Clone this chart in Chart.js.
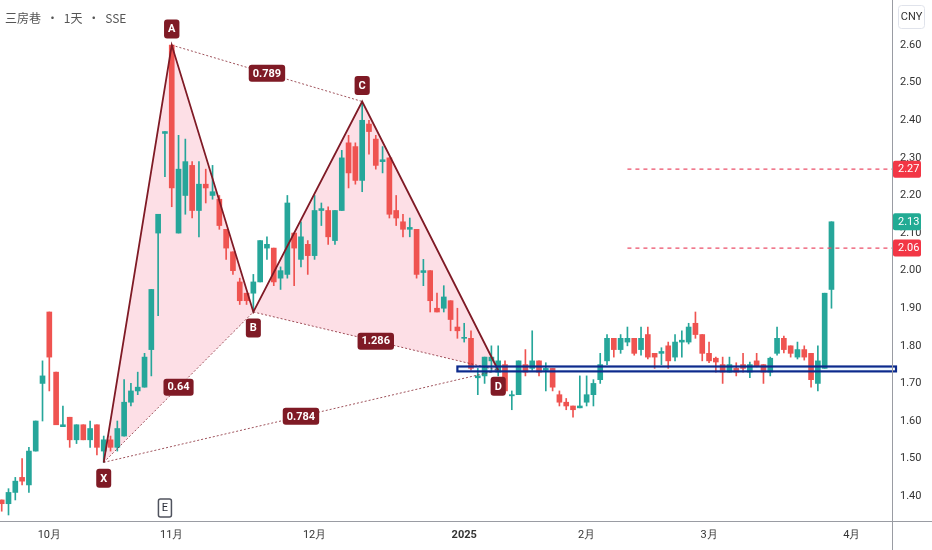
<!DOCTYPE html>
<html>
<head>
<meta charset="utf-8">
<script src="https://cdn.jsdelivr.net/npm/chart.js@4.4.1/dist/chart.umd.min.js"></script>
<style>
  html, body { margin: 0; padding: 0; background: #fff; }
  #wrap { width: 932px; height: 550px; }
</style>
</head>
<body>
<div id="wrap"><canvas id="chart" width="932" height="550"></canvas></div>
<script>
// daily candles, 三房巷 (SSE), late Sep 2024 -> 27 Mar 2025
const opens = [
  1.39, 1.38, 1.41, 1.45, 1.43, 1.52, 1.70, 1.89, 1.73, 1.585,
  1.61, 1.55, 1.59, 1.55, 1.59, 1.52, 1.55, 1.53, 1.56, 1.65,
  1.68, 1.69, 1.79, 2.10, 2.365, 2.60, 2.10, 2.20, 2.28, 2.16,
  2.23, 2.20, 2.19, 2.11, 2.05, 1.97, 1.94, 1.94, 1.97, 2.06,
  2.06, 1.98, 1.99, 2.10, 2.03, 2.07, 2.04, 2.16, 2.16, 2.08,
  2.16, 2.34, 2.33, 2.24, 2.39, 2.35, 2.29, 2.30, 2.16, 2.13,
  2.11, 2.11, 1.995, 2.00, 1.90, 1.90, 1.92, 1.85, 1.82, 1.82,
  1.715, 1.72, 1.76, 1.73, 1.75, 1.667, 1.67, 1.75, 1.74, 1.76,
  1.735, 1.74, 1.67, 1.65, 1.64, 1.635, 1.65, 1.67, 1.71, 1.76,
  1.82, 1.79, 1.81, 1.82, 1.79, 1.83, 1.78, 1.78, 1.80, 1.77,
  1.81, 1.81, 1.86, 1.83, 1.78, 1.767, 1.75, 1.73, 1.74, 1.75,
  1.73, 1.76, 1.75, 1.73, 1.78, 1.82, 1.80, 1.77, 1.79, 1.78,
  1.70, 1.74, 1.95
];
const highs = [
  1.39, 1.42, 1.45, 1.50, 1.53, 1.60, 1.76, 1.89, 1.73, 1.64,
  1.61, 1.59, 1.59, 1.60, 1.59, 1.56, 1.56, 1.60, 1.71, 1.70,
  1.73, 1.78, 1.95, 2.15, 2.37, 2.60, 2.36, 2.35, 2.29, 2.29,
  2.27, 2.28, 2.20, 2.11, 2.05, 1.98, 1.94, 1.99, 2.08, 2.09,
  2.06, 2.01, 2.20, 2.10, 2.13, 2.08, 2.20, 2.18, 2.17, 2.16,
  2.32, 2.36, 2.34, 2.45, 2.40, 2.36, 2.33, 2.30, 2.20, 2.15,
  2.14, 2.11, 2.03, 2.00, 1.94, 1.96, 1.92, 1.90, 1.86, 1.84,
  1.74, 1.77, 1.80, 1.80, 1.76, 1.68, 1.76, 1.79, 1.84, 1.76,
  1.755, 1.74, 1.68, 1.66, 1.64, 1.72, 1.72, 1.71, 1.78, 1.83,
  1.82, 1.83, 1.85, 1.82, 1.85, 1.85, 1.78, 1.795, 1.81, 1.83,
  1.84, 1.86, 1.89, 1.83, 1.81, 1.77, 1.77, 1.77, 1.755, 1.78,
  1.757, 1.78, 1.75, 1.77, 1.85, 1.826, 1.80, 1.81, 1.80, 1.78,
  1.80, 1.94, 2.13
];
const lows = [
  1.36, 1.35, 1.39, 1.43, 1.41, 1.52, 1.60, 1.68, 1.59, 1.585,
  1.53, 1.54, 1.55, 1.53, 1.51, 1.49, 1.52, 1.52, 1.56, 1.64,
  1.67, 1.69, 1.72, 1.88, 2.25, 2.17, 2.10, 2.15, 2.14, 2.09,
  2.18, 2.19, 2.11, 2.03, 1.99, 1.91, 1.91, 1.89, 1.97, 2.03,
  1.96, 1.95, 1.98, 1.96, 2.01, 1.99, 2.03, 2.12, 2.07, 2.07,
  2.16, 2.22, 2.23, 2.21, 2.31, 2.27, 2.26, 2.14, 2.12, 2.09,
  2.09, 1.98, 1.96, 1.89, 1.89, 1.89, 1.84, 1.82, 1.81, 1.735,
  1.67, 1.70, 1.73, 1.72, 1.675, 1.63, 1.67, 1.72, 1.735, 1.72,
  1.68, 1.68, 1.64, 1.63, 1.61, 1.635, 1.64, 1.64, 1.70, 1.75,
  1.77, 1.78, 1.80, 1.775, 1.775, 1.765, 1.74, 1.75, 1.74, 1.76,
  1.77, 1.805, 1.82, 1.76, 1.755, 1.73, 1.70, 1.73, 1.72, 1.73,
  1.715, 1.744, 1.70, 1.72, 1.775, 1.781, 1.77, 1.765, 1.762, 1.69,
  1.68, 1.74, 1.90
];
const closes = [
  1.38, 1.41, 1.44, 1.44, 1.52, 1.60, 1.72, 1.77, 1.59, 1.59,
  1.55, 1.59, 1.55, 1.58, 1.53, 1.55, 1.53, 1.58, 1.65, 1.68,
  1.69, 1.77, 1.95, 2.15, 2.37, 2.22, 2.27, 2.29, 2.16, 2.23,
  2.22, 2.21, 2.12, 2.06, 2.00, 1.92, 1.92, 1.97, 2.08, 2.07,
  1.97, 2.00, 2.18, 2.06, 2.09, 2.04, 2.16, 2.165, 2.09, 2.16,
  2.30, 2.26, 2.24, 2.40, 2.37, 2.28, 2.295, 2.15, 2.14, 2.11,
  2.115, 1.99, 2.00, 1.92, 1.89, 1.93, 1.87, 1.84, 1.821, 1.74,
  1.72, 1.77, 1.77, 1.76, 1.68, 1.67, 1.76, 1.73, 1.76, 1.73,
  1.74, 1.69, 1.65, 1.64, 1.63, 1.64, 1.67, 1.70, 1.75, 1.82,
  1.79, 1.82, 1.82, 1.78, 1.82, 1.77, 1.77, 1.785, 1.76, 1.81,
  1.815, 1.85, 1.83, 1.78, 1.76, 1.757, 1.73, 1.75, 1.73, 1.74,
  1.75, 1.747, 1.73, 1.767, 1.82, 1.79, 1.78, 1.79, 1.77, 1.71,
  1.76, 1.94, 2.13
];

// month labels on the time axis (bar index of first session)
const monthTickIdx = [7, 25, 46, 68, 86, 104, 125];
const monthTickLabels = ['10月', '11月', '12月', '2025', '2月', '3月', '4月'];

// XABCD pattern (bar index, price)
const patternNames = ['X', 'A', 'B', 'C', 'D'];
const patternIdx = [15, 25, 37, 53, 73];
const patternPrice = [1.49, 2.60, 1.89, 2.45, 1.735];
const ratioText = ['0.64', '0.789', '1.286', '0.784'];
const ratioFrom = [0, 1, 2, 0];
const ratioTo = [2, 3, 4, 4];

// horizontal levels
const targetLevels = [2.27, 2.06];
const targetStartIdx = 92;
const zoneStartIdx = 67;
const zoneTop = 1.745;
const zoneBottom = 1.732;
const earningsIdx = 24;
const lastPrice = 2.13;

const UP = '#26a69a', DOWN = '#ef5350', MAROON = '#7f1a25';
const X_MAX = 130.9;

const candleColors = closes.map((c, i) => c >= opens[i] ? UP : DOWN);
const pt = k => ({ x: patternIdx[k], y: patternPrice[k] });

const dotted = (a, b) => ({
  type: 'line',
  data: [pt(a), pt(b)],
  borderColor: 'rgba(127,26,37,0.75)',
  borderWidth: 1,
  borderDash: [2, 2],
  pointRadius: 0,
  order: 1
});

const targetSets = targetLevels.map(v => ({
  type: 'line',
  data: [{ x: targetStartIdx, y: v }, { x: X_MAX, y: v }],
  borderColor: '#ec4f68',
  borderWidth: 1.2,
  borderDash: [4, 4],
  pointRadius: 0,
  order: 1
}));

function roundBox(ctx, x, y, w, h, r) {
  ctx.beginPath();
  ctx.moveTo(x + r, y);
  ctx.arcTo(x + w, y, x + w, y + h, r);
  ctx.arcTo(x + w, y + h, x, y + h, r);
  ctx.arcTo(x, y + h, x, y, r);
  ctx.arcTo(x, y, x + w, y, r);
  ctx.closePath();
}

function tag(ctx, text, cx, cy, bg, font, minW, h) {
  ctx.font = font;
  const w = Math.max(minW, ctx.measureText(text).width + 8);
  ctx.fillStyle = bg;
  roundBox(ctx, cx - w / 2, cy - h / 2, w, h, 3);
  ctx.fill();
  ctx.fillStyle = '#fff';
  ctx.textAlign = 'center';
  ctx.textBaseline = 'middle';
  ctx.fillText(text, cx, cy + 0.5);
}

const NARROW = '"Liberation Sans Narrow", Roboto, sans-serif';

const harmonicPlugin = {
  id: 'harmonic',
  beforeDatasetsDraw(chart) {
    const { ctx, chartArea: a, scales: { x, y } } = chart;
    const px = k => x.getPixelForValue(patternIdx[k]);
    const py = k => y.getPixelForValue(patternPrice[k]);
    ctx.save();
    ctx.beginPath();
    ctx.rect(a.left, a.top, a.right - a.left, a.bottom - a.top);
    ctx.clip();
    ctx.fillStyle = 'rgba(242,54,100,0.16)';
    [[0, 1, 2], [2, 3, 4]].forEach(tri => {
      ctx.beginPath();
      ctx.moveTo(px(tri[0]), py(tri[0]));
      ctx.lineTo(px(tri[1]), py(tri[1]));
      ctx.lineTo(px(tri[2]), py(tri[2]));
      ctx.closePath();
      ctx.fill();
    });
    ctx.restore();
  },
  afterDatasetsDraw(chart) {
    const { ctx, chartArea: a, scales: { x, y } } = chart;
    const px = k => x.getPixelForValue(patternIdx[k]);
    const py = k => y.getPixelForValue(patternPrice[k]);
    ctx.save();

    // support zone
    const zx = x.getPixelForValue(zoneStartIdx);
    const zt = y.getPixelForValue(zoneTop);
    const zb = y.getPixelForValue(zoneBottom);
    ctx.fillStyle = 'rgba(33,150,243,0.08)';
    ctx.fillRect(zx, zt, a.right - zx, zb - zt);
    ctx.strokeStyle = '#0c2a8c';
    ctx.lineWidth = 2.2;
    ctx.strokeRect(zx, zt, a.right - zx + 4, zb - zt);

    // ratio labels
    ratioText.forEach((t, i) => {
      const cx = (px(ratioFrom[i]) + px(ratioTo[i])) / 2;
      const cy = (py(ratioFrom[i]) + py(ratioTo[i])) / 2;
      tag(ctx, t, cx, cy, MAROON, 'bold 11px ' + NARROW, 20, 17);
    });

    // point labels
    patternNames.forEach((n, k) => {
      const off = k % 2 === 1 ? -16 : 16;
      tag(ctx, n, px(k), py(k) + off, MAROON, 'bold 11px ' + NARROW, 14, 19);
    });

    // earnings marker
    const ex = x.getPixelForValue(earningsIdx);
    const ey = a.bottom - 13;
    ctx.fillStyle = '#fff';
    ctx.strokeStyle = '#50535e';
    ctx.lineWidth = 1.5;
    roundBox(ctx, ex - 6.5, ey - 9, 13, 18, 2);
    ctx.fill();
    ctx.stroke();
    ctx.fillStyle = '#2a2e39';
    ctx.font = '11px ' + NARROW;
    ctx.textAlign = 'center';
    ctx.textBaseline = 'middle';
    ctx.fillText('E', ex, ey + 0.5);
    ctx.restore();
  },
  afterDraw(chart) {
    const { ctx, chartArea: a, scales: { y } } = chart;
    ctx.save();
    // frame lines
    ctx.strokeStyle = '#9a9ca3';
    ctx.lineWidth = 1;
    ctx.beginPath();
    ctx.moveTo(a.right + 0.5, 0);
    ctx.lineTo(a.right + 0.5, chart.height);
    ctx.moveTo(0, a.bottom + 0.5);
    ctx.lineTo(chart.width, a.bottom + 0.5);
    ctx.stroke();

    // price tags on the axis
    const tags = [
      [targetLevels[0], '#f23645'],
      [lastPrice, '#22ab94'],
      [targetLevels[1], '#f23645']
    ];
    tags.forEach(([v, c]) => {
      const cy = y.getPixelForValue(v);
      ctx.fillStyle = c;
      roundBox(ctx, a.right + 1, cy - 8.5, 28, 17, 2);
      ctx.fill();
      ctx.fillStyle = '#fff';
      ctx.font = '11px ' + NARROW;
      ctx.textAlign = 'left';
      ctx.textBaseline = 'middle';
      ctx.fillText(v.toFixed(2), a.right + 6, cy + 0.5);
    });

    // currency box
    ctx.fillStyle = '#fff';
    ctx.strokeStyle = '#e0e3eb';
    roundBox(ctx, a.right + 6.5, 5.5, 26, 23, 3);
    ctx.fill();
    ctx.stroke();
    ctx.fillStyle = '#333';
    ctx.font = '11px ' + NARROW;
    ctx.textAlign = 'center';
    ctx.textBaseline = 'middle';
    ctx.fillText('CNY', a.right + 19.5, 17.5);

    // symbol title
    ctx.fillStyle = '#555';
    ctx.font = '12px "Noto Sans CJK SC", sans-serif';
    ctx.textAlign = 'left';
    ctx.fillText('三房巷  •  1天  •  SSE', 5, 18);
    ctx.restore();
  }
};

new Chart(document.getElementById('chart'), {
  type: 'bar',
  data: {
    datasets: [
      {
        type: 'line',
        data: patternIdx.map((_, k) => pt(k)),
        borderColor: MAROON,
        borderWidth: 1.8,
        pointRadius: 0,
        tension: 0,
        order: 0
      },
      dotted(0, 2), dotted(1, 3), dotted(2, 4), dotted(0, 4),
      ...targetSets,
      {
        data: opens.map((o, i) => ({ x: i, y: [o, closes[i]] })),
        backgroundColor: candleColors,
        barThickness: 5,
        minBarLength: 1,
        grouped: false,
        order: 4
      },
      {
        data: lows.map((l, i) => ({ x: i, y: [l, highs[i]] })),
        backgroundColor: candleColors,
        barThickness: 1,
        grouped: false,
        order: 5
      }
    ]
  },
  options: {
    responsive: false,
    animation: false,
    devicePixelRatio: 1,
    layout: { padding: 0 },
    plugins: { legend: { display: false }, tooltip: { enabled: false } },
    scales: {
      x: {
        type: 'linear',
        min: -0.25,
        max: X_MAX,
        offset: false,
        grid: { display: false, drawTicks: false },
        border: { display: false },
        afterBuildTicks: s => { s.ticks = monthTickIdx.map(v => ({ value: v })); },
        afterFit: s => { s.height = 29; s.paddingLeft = 0; s.paddingRight = 0; },
        ticks: {
          autoSkip: false,
          maxRotation: 0,
          padding: 8,
          color: '#333',
          font: ctx => ({ family: NARROW, size: 11, weight: ctx.tick && ctx.tick.value === 68 ? 'bold' : 'normal' }),
          callback: v => {
            const k = monthTickIdx.indexOf(v);
            return k >= 0 ? monthTickLabels[k] : '';
          }
        }
      },
      y: {
        position: 'right',
        min: 1.334,
        max: 2.72,
        grid: { display: false, drawTicks: false },
        border: { display: false },
        afterFit: s => { s.width = 40; s.paddingTop = 0; s.paddingBottom = 0; },
        ticks: {
          stepSize: 0.1,
          includeBounds: false,
          padding: 8,
          color: '#333',
          font: { family: NARROW, size: 11 },
          callback: v => (v >= 1.395 && v <= 2.605) ? v.toFixed(2) : ''
        }
      }
    }
  },
  plugins: [harmonicPlugin]
});
</script>
</body>
</html>
